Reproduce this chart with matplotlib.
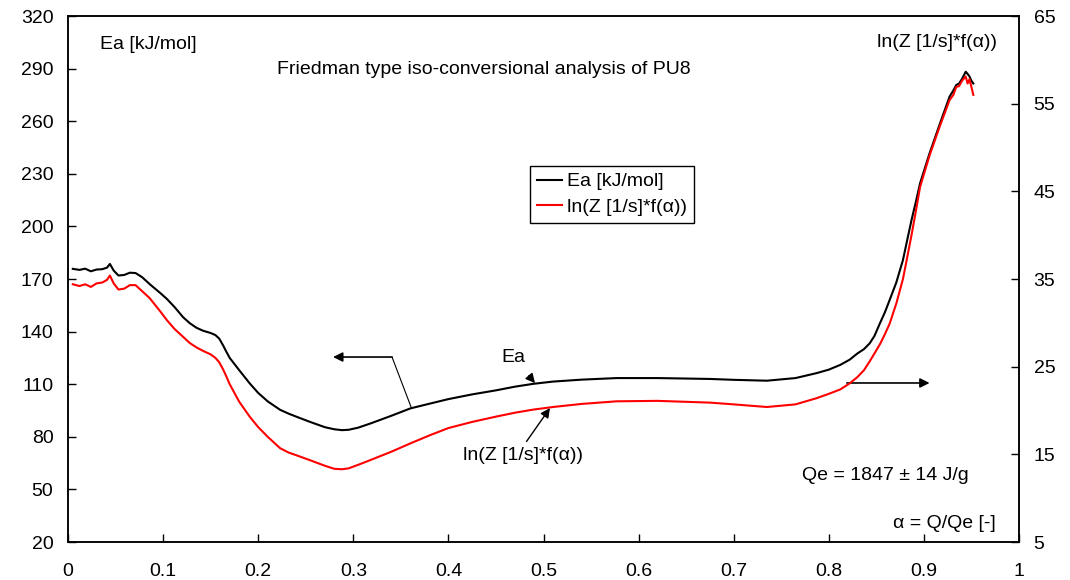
import matplotlib
matplotlib.use("Agg")
import matplotlib.pyplot as plt
from matplotlib.ticker import FuncFormatter

plt.rcParams["font.family"] = ["Liberation Sans", "DejaVu Sans"]

# conversion alpha = Q/Qe
alpha = [0.005, 0.012, 0.018, 0.024, 0.030, 0.036, 0.041, 0.044, 0.048, 0.053,
         0.059, 0.065, 0.071, 0.078, 0.086, 0.097, 0.104, 0.112, 0.121, 0.128,
         0.135, 0.142, 0.150, 0.155, 0.159, 0.163, 0.166, 0.170, 0.180, 0.191,
         0.200, 0.210, 0.223, 0.232, 0.240, 0.254, 0.270, 0.280, 0.288, 0.295,
         0.305, 0.318, 0.340, 0.360, 0.381, 0.400, 0.425, 0.450, 0.470, 0.489,
         0.510, 0.540, 0.577, 0.620, 0.675, 0.700, 0.735, 0.765, 0.787, 0.800,
         0.812, 0.822, 0.830, 0.837, 0.843, 0.848, 0.854, 0.859, 0.864, 0.871,
         0.878, 0.882, 0.887, 0.892, 0.896, 0.906, 0.917, 0.927, 0.931, 0.934,
         0.937, 0.940, 0.944, 0.946, 0.948, 0.950, 0.952]

# activation energy Ea [kJ/mol]
ea = [175.8, 175.2, 175.9, 174.4, 175.4, 175.6, 176.5, 178.6, 174.8, 172.0,
      172.3, 173.6, 173.4, 171.0, 167.0, 162.0, 158.6, 154.0, 148.2, 144.8,
      142.2, 140.5, 139.2, 138.0, 136.0, 132.2, 129.0, 125.0, 118.0, 110.5,
      105.0, 100.2, 95.4, 93.2, 91.5, 88.6, 85.5, 84.3, 83.8, 84.0,
      85.2, 87.6, 92.0, 96.2, 99.0, 101.5, 104.2, 106.5, 108.6, 110.2,
      111.5, 112.6, 113.5, 113.5, 113.0, 112.5, 112.0, 113.5, 116.3, 118.3,
      121.0, 124.0, 127.5, 130.0, 133.3, 137.5, 145.0, 151.0, 158.0, 168.0,
      180.8, 191.0, 203.6, 215.0, 224.6, 241.7, 258.8, 274.0, 277.5, 280.6,
      281.5, 284.0, 288.2, 287.0, 285.5, 283.0, 281.5]

# pre-exponential term ln(Z*f(alpha))
lnz = [34.4, 34.2, 34.4, 34.1, 34.5, 34.6, 34.9, 35.4, 34.5, 33.8,
       33.9, 34.3, 34.3, 33.6, 32.8, 31.3, 30.3, 29.3, 28.4, 27.7,
       27.2, 26.8, 26.4, 26.0, 25.5, 24.7, 24.0, 23.0, 21.0, 19.3,
       18.1, 17.0, 15.7, 15.2, 14.9, 14.35, 13.7, 13.35, 13.3, 13.4,
       13.8, 14.35, 15.3, 16.25, 17.2, 18.0, 18.7, 19.3, 19.75, 20.1,
       20.4, 20.75, 21.05, 21.1, 20.9, 20.7, 20.4, 20.7, 21.4, 21.9,
       22.4, 23.1, 23.8, 24.6, 25.6, 26.5, 27.6, 28.7, 29.9, 32.2,
       35.0, 37.2, 40.0, 43.0, 45.5, 49.1, 52.5, 55.4, 56.0, 56.9,
       57.0, 57.6, 58.1, 57.3, 57.8, 56.9, 56.0]

x_ticks = [0.0, 0.1, 0.2, 0.3, 0.4, 0.5, 0.6, 0.7, 0.8, 0.9, 1.0]
ea_ticks = [20, 50, 80, 110, 140, 170, 200, 230, 260, 290, 320]
lnz_ticks = [5, 15, 25, 35, 45, 55, 65]

fig = plt.figure(figsize=(10.7, 5.8), dpi=100)
ax = fig.add_axes([0.0636, 0.0655, 0.8887, 0.9069])
ax2 = ax.twinx()

line_ea, = ax.plot(alpha, ea, color="black", lw=1.5, label="Ea [kJ/mol]")
line_lnz, = ax2.plot(alpha, lnz, color="red", lw=1.5, label="ln(Z [1/s]*f(\u03b1))")

ax.set_xlim(0, 1)
ax.set_ylim(20, 320)
ax2.set_ylim(5, 65)
ax.set_xticks(x_ticks)
ax.set_yticks(ea_ticks)
ax2.set_yticks(lnz_ticks)
ax.xaxis.set_major_formatter(FuncFormatter(lambda v, p: f"{v:g}"))

for a in (ax, ax2):
    for s in a.spines.values():
        s.set_linewidth(1.1)
ax.tick_params(axis="x", direction="in", length=5.5, width=1, pad=15, labelsize=14)
ax.tick_params(axis="y", direction="in", length=5.5, width=1, pad=10.5, labelsize=14)
ax2.tick_params(axis="y", direction="in", length=5.5, width=1, pad=10.5, labelsize=14)

# axis captions inside the frame
ax.text(0.0336, 0.945, "Ea [kJ/mol]", transform=ax.transAxes, fontsize=14,
        ha="left", va="center")
ax.text(0.9769, 0.9487, "ln(Z [1/s]*f(\u03b1))", transform=ax.transAxes, fontsize=14,
        ha="right", va="center")
ax.text(0.2198, 0.899, "Friedman type iso-conversional analysis of PU8",
        transform=ax.transAxes, fontsize=14, ha="left", va="center")
ax.text(0.7718, 0.1255, "Qe = 1847 \u00b1 14 J/g", transform=ax.transAxes,
        fontsize=14, ha="left", va="center")
ax.text(0.9758, 0.0361, "\u03b1 = Q/Qe [-]", transform=ax.transAxes,
        fontsize=14, ha="right", va="center")

head = dict(arrowstyle="-|>", color="black", lw=1.2, mutation_scale=14,
            shrinkA=0, shrinkB=0)

# arrow pointing to the left-hand (Ea) axis
ax.plot([0.3607, 0.3407], [97.0, 125.5], color="black", lw=0.8)
ax.annotate("", xy=(0.2787, 125.5), xytext=(0.3407, 125.5), arrowprops=head)

# arrow pointing to the right-hand (ln Z) axis
ax.annotate("", xy=(0.906, 110.7), xytext=(0.819, 110.7), arrowprops=head)

# curve labels
ax.annotate("Ea", xy=(0.4911, 110.6), xytext=(0.468, 125.5), fontsize=14,
            ha="center", va="center",
            arrowprops=dict(head, relpos=(0.5, 0.5), shrinkA=7, lw=1.0))
ax.annotate("ln(Z [1/s]*f(\u03b1))", xy=(0.5068, 96.4), xytext=(0.4784, 69.6),
            fontsize=14, ha="center", va="center",
            arrowprops=dict(head, relpos=(0.5, 1.0), shrinkA=2, lw=1.0))

leg = ax2.legend(handles=[line_ea, line_lnz], loc="upper left",
                 bbox_to_anchor=(0.4858, 0.7148), borderaxespad=0,
                 fontsize=14, frameon=True, fancybox=False, framealpha=1,
                 edgecolor="black", handlelength=1.3, handletextpad=0.25,
                 borderpad=0.35, labelspacing=0.4)
leg.get_frame().set_linewidth(1.0)

fig.savefig("out.png", dpi=100)
